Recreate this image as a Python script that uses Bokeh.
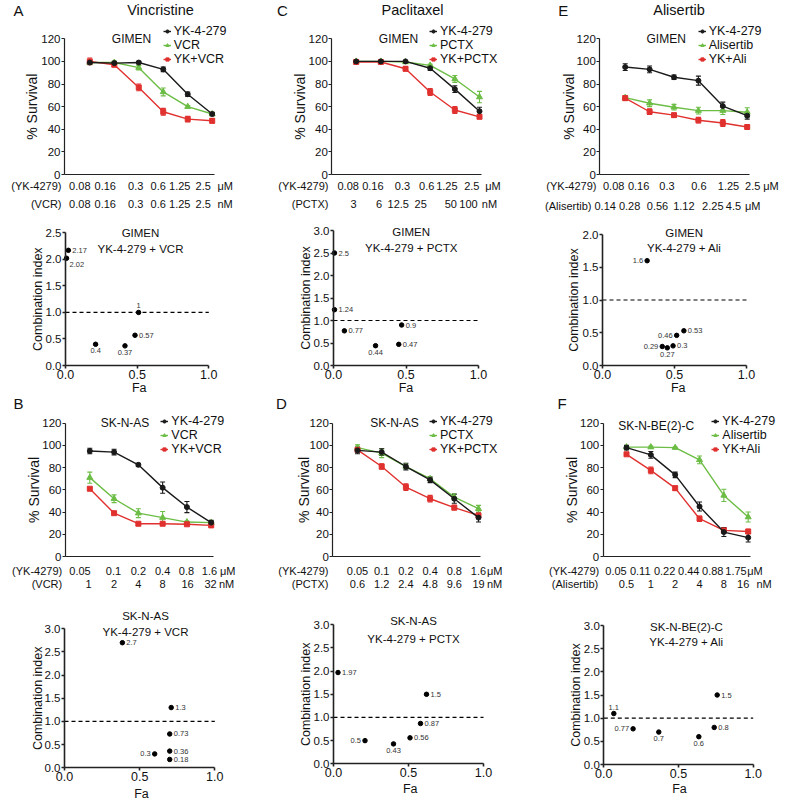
import numpy as np
from bokeh.plotting import figure
from bokeh.models import (Range1d, LinearAxis, FixedTicker, ColumnDataSource, Whisker,
                          TeeHead, Legend, LegendItem, NumeralTickFormatter)
from bokeh.layouts import column, row
from bokeh.embed import file_html
from bokeh.resources import INLINE
from bokeh.core.properties import value

FONT = "Liberation Sans"
BLACK = "#1a1a1a"
GREEN = "#6cbd45"
RED = "#e0312f"
TXT = "#111111"

# ------------------------------------------------------------------ data
# Panel A : Vincristine, GIMEN
A_yk_dose = ["0.08", "0.16", "0.3", "0.6", "1.25", "2.5"]
A_drug_dose = ["0.08", "0.16", "0.3", "0.6", "1.25", "2.5"]
A_yk = [99, 98.5, 99, 93, 71, 53.5]
A_yk_err = [1.5, 1.5, 1, 2, 2, 1.5]
A_drug = [99, 99, 94.5, 73, 60, 53.5]
A_drug_err = [1, 1, 2, 3.5, 1, 1]
A_combo = [100, 97, 77, 55.5, 49, 47.5]
A_combo_err = [3, 1.5, 3, 3, 2.5, 2]
A_fa = [0.02, 0.007, 0.21, 0.415, 0.485, 0.51]
A_ci = [2.17, 2.02, 0.4, 0.37, 0.57, 1.0]
A_ci_lab = ["2.17", "2.02", "0.4", "0.37", "0.57", "1"]

# Panel B : Vincristine, SK-N-AS
B_yk_dose = ["0.05", "0.1", "0.2", "0.4", "0.8", "1.6"]
B_drug_dose = ["1", "2", "4", "8", "16", "32"]
B_yk = [95, 94, 82.5, 62, 44.5, 30.5]
B_yk_err = [2.5, 2.5, 1.5, 5, 5, 2]
B_drug = [71, 52, 39, 35, 31, 30.5]
B_drug_err = [5, 3.5, 4, 5.5, 1, 1]
B_combo = [61, 39, 29.5, 29.5, 29, 28]
B_combo_err = [1, 1, 1, 1, 1, 1]
B_fa = [0.385, 0.71, 0.70, 0.70, 0.70, 0.60]
B_ci = [2.7, 1.3, 0.73, 0.36, 0.18, 0.3]
B_ci_lab = ["2.7", "1.3", "0.73", "0.36", "0.18", "0.3"]

# Panel C : Paclitaxel, GIMEN
C_yk_dose = ["0.08", "0.16", "0.3", "0.6", "1.25", "2.5"]
C_drug_dose = ["3", "6", "12.5", "25", "50", "100"]
C_yk = [100, 100, 100, 94, 75.5, 56]
C_yk_err = [0.5, 0.5, 0.5, 2, 3, 3.5]
C_drug = [100, 100, 99.5, 96.5, 84.5, 68.5]
C_drug_err = [0.5, 0.5, 0.5, 1, 3, 5]
C_combo = [99.5, 99.5, 93.5, 73, 57, 51]
C_combo_err = [0.5, 0.5, 2, 3, 3, 1.5]
C_fa = [0.007, 0.007, 0.075, 0.29, 0.45, 0.47]
C_ci = [2.5, 1.24, 0.77, 0.44, 0.47, 0.9]
C_ci_lab = ["2.5", "1.24", "0.77", "0.44", "0.47", "0.9"]

# Panel D : Paclitaxel, SK-N-AS
D_yk_dose = ["0.05", "0.1", "0.2", "0.4", "0.8", "1.6"]
D_drug_dose = ["0.6", "1.2", "2.4", "4.8", "9.6", "19"]
D_yk = [95.5, 94, 81, 69, 52, 35]
D_yk_err = [3, 3, 3, 2.5, 4, 4]
D_drug = [98, 93, 81, 70, 53.5, 43]
D_drug_err = [2.5, 4, 2, 1.5, 3, 3]
D_combo = [96, 81, 62.5, 52, 44, 37]
D_combo_err = [1.5, 2.5, 3, 3, 2, 2]
D_fa = [0.03, 0.21, 0.40, 0.51, 0.58, 0.62]
D_ci = [1.97, 0.5, 0.43, 0.56, 0.87, 1.5]
D_ci_lab = ["1.97", "0.5", "0.43", "0.56", "0.87", "1.5"]

# Panel E : Alisertib, GIMEN
E_yk_dose = ["0.08", "0.16", "0.3", "0.6", "1.25", "2.5"]
E_drug_dose = ["0.14", "0.28", "0.56", "1.12", "2.25", "4.5"]
E_yk = [95, 93, 86, 83, 60.5, 52]
E_yk_err = [3, 3, 2, 4, 3.5, 3]
E_drug = [68, 63, 59.5, 56.5, 56.5, 55]
E_drug_err = [1.5, 3, 2.5, 3, 3.5, 4]
E_combo = [67.5, 55.5, 52.5, 48, 45.5, 42]
E_combo_err = [2, 2.5, 1.5, 2.5, 3, 1]
E_fa = [0.31, 0.515, 0.565, 0.415, 0.45, 0.49]
E_ci = [1.6, 0.46, 0.53, 0.29, 0.27, 0.3]
E_ci_lab = ["1.6", "0.46", "0.53", "0.29", "0.27", "0.3"]

# Panel F : Alisertib, SK-N-BE(2)-C
F_yk_dose = ["0.05", "0.11", "0.22", "0.44", "0.88", "1.75"]
F_drug_dose = ["0.5", "1", "2", "4", "8", "16"]
F_yk = [98, 91.5, 73.5, 45, 22, 17]
F_yk_err = [2, 3, 2.5, 4, 4, 4]
F_drug = [98.5, 98.5, 98, 87, 55, 35.5]
F_drug_err = [0.5, 1, 0.5, 3.5, 5.5, 4.5]
F_combo = [92, 77.5, 61.5, 34, 23.5, 22.5]
F_combo_err = [1, 3, 2, 2.5, 2.5, 2]
F_fa = [0.067, 0.196, 0.368, 0.636, 0.739, 0.759]
F_ci = [1.1, 0.77, 0.7, 0.6, 0.8, 1.5]
F_ci_lab = ["1.1", "0.77", "0.7", "0.6", "0.8", "1.5"]

SURV_TICKS = [0, 20, 40, 60, 80, 100, 120]
CI_THRESHOLD = 1.0
FA_TICKS = [0.0, 0.5, 1.0]

# ------------------------------------------------------------------ layout (page pixels)
X0 = [0, 263, 526]
W = [263, 263, 263]
Y0 = [0, 214, 411, 598]
H = [214, 197, 187, 208]
DOSE_FS = "11px"


def mk_fig(c, r, fx, fy):
    x0, w, y0, h = X0[c], W[c], Y0[r], H[r]
    p = figure(width=w, height=h,
               x_range=Range1d(fx(x0), fx(x0 + w)),
               y_range=Range1d(fy(y0 + h), fy(y0)),
               x_axis_location=None, y_axis_location=None,
               toolbar_location=None, output_backend="svg",
               min_border=0, outline_line_color=None,
               background_fill_color="white", border_fill_color="white")
    p.grid.visible = False
    return p


def txt(p, xs, ys, texts, size, align="center", baseline="middle", angle=0.0,
        color=TXT, xo=0, yo=0):
    src = ColumnDataSource(dict(x=list(xs), y=list(ys), text=list(texts)))
    p.text(x="x", y="y", text="text", source=src, text_font=value(FONT),
           text_font_size=size, text_align=align, text_baseline=baseline,
           angle=angle, text_color=color, x_offset=xo, y_offset=yo)


def style_axis(ax, lw, size):
    ax.axis_line_color = "#222222"
    ax.axis_line_width = lw
    ax.major_tick_line_color = "#222222"
    ax.major_tick_line_width = lw
    ax.major_tick_out = 3
    ax.major_tick_in = 0
    ax.minor_tick_line_color = None
    ax.major_label_text_font = FONT
    ax.major_label_text_font_size = size
    ax.major_label_text_color = TXT
    ax.major_label_standoff = 1


def survival(c, r, m, series, labels, cell_label, doses, letter, title):
    sx = (m["px5"] - m["px0"]) / 5.0
    sy = (m["py0"] - m["py120"]) / 120.0
    fx = lambda px: (px - m["px0"]) / sx
    fy = lambda py: (m["py0"] - py) / sy
    p = mk_fig(c, r, fx, fy)

    yax = LinearAxis(fixed_location=fx(m["axis"]), bounds=(0, 120),
                     ticker=FixedTicker(ticks=SURV_TICKS))
    style_axis(yax, 1.2, "11.5px")
    p.add_layout(yax, "left")
    xax = LinearAxis(fixed_location=0, bounds=(fx(m["axis"]), 5 + 2.0 / sx),
                     ticker=FixedTicker(ticks=[]))
    style_axis(xax, 1.2, "0px")
    p.add_layout(xax, "below")

    idx = list(range(6))
    rend = {}
    for key in ["drug", "combo", "yk"]:
        vals, err, color, marker, size = series[key]
        y = np.array(vals, dtype=float)
        e = np.array(err, dtype=float)
        src = ColumnDataSource(dict(x=idx, y=y, upper=y + e, lower=y - e))
        wk = Whisker(source=src, base="x", upper="upper", lower="lower",
                     line_color=color, line_width=1.1,
                     upper_head=TeeHead(size=5, line_color=color, line_width=1.1),
                     lower_head=TeeHead(size=5, line_color=color, line_width=1.1))
        p.add_layout(wk)
        ln = p.line("x", "y", source=src, line_color=color, line_width=1.4)
        sc = p.scatter("x", "y", source=src, marker=marker, size=size,
                       fill_color=color, line_color=color)
        rend[key] = [ln, sc]

    items = [LegendItem(label=labels[k], renderers=rend[k]) for k in ["yk", "drug", "combo"]]
    h_item, pitch = 14, 13
    lx = m["leg_x"] - 4 - X0[c]
    ly = (Y0[r] + H[r]) - (m["leg_y"] + 2 * pitch + h_item / 2.0)
    lg = Legend(items=items, location=(lx, ly), orientation="vertical",
                background_fill_alpha=0, border_line_color=None, padding=0, margin=0,
                spacing=pitch - h_item, glyph_width=8, glyph_height=12, label_height=12,
                label_standoff=3, label_text_font=FONT, label_text_font_size="12.5px",
                label_text_color=TXT)
    p.add_layout(lg)

    txt(p, [fx(m["cell"][0])], [fy(m["cell"][1])], [cell_label], "12px")
    txt(p, [fx(m["ylab_x"])], [60], ["% Survival"], "14px", angle=np.pi / 2)

    for (ypx, offs, prefix, labs, unit, pre_r, unit_l) in doses:
        yy = fy(ypx)
        txt(p, [i + o / sx for i, o in zip(idx, offs)], [yy] * 6, labs, DOSE_FS)
        txt(p, [fx(pre_r)], [yy], [prefix], DOSE_FS, align="right")
        txt(p, [fx(unit_l)], [yy], [unit], DOSE_FS, align="left")

    if letter is not None:
        txt(p, [fx(letter[1])], [fy(letter[2])], [letter[0]], "15px")
    if title is not None:
        txt(p, [fx(title[1])], [fy(title[2])], [title[0]], "14.5px")
    return p


POS = {
    "r": dict(align="left", baseline="middle", xo=4, yo=0),
    "l": dict(align="right", baseline="middle", xo=-4, yo=0),
    "b": dict(align="center", baseline="top", xo=0, yo=4),
    "t": dict(align="center", baseline="bottom", xo=0, yo=-4),
    "br": dict(align="left", baseline="top", xo=3, yo=4),
}


def ci_panel(c, r, m, fa, ci, labs, pos, titles, ymax, letter=None):
    sx = (m["x1"] - m["x0"])
    sy = (m["y0"] - m["ytop"]) / ymax
    fx = lambda px: (px - m["x0"]) / sx
    fy = lambda py: (m["y0"] - py) / sy
    p = mk_fig(c, r, fx, fy)

    yticks = [round(v, 1) for v in np.arange(0, ymax + 0.001, 0.5)]
    yax = LinearAxis(fixed_location=0, bounds=(0, ymax), ticker=FixedTicker(ticks=yticks),
                     formatter=NumeralTickFormatter(format="0.0"))
    style_axis(yax, 1.6, "11.5px")
    p.add_layout(yax, "left")
    xax = LinearAxis(fixed_location=0, bounds=(0, 1), ticker=FixedTicker(ticks=FA_TICKS),
                     formatter=NumeralTickFormatter(format="0.0"))
    style_axis(xax, 1.6, "12.5px")
    p.add_layout(xax, "below")

    p.line(x=[FA_TICKS[0], FA_TICKS[-1]], y=[CI_THRESHOLD, CI_THRESHOLD],
           line_dash="4 3", line_color="black", line_width=1.2)
    p.scatter(x=fa, y=ci, size=4.5, fill_color="black", line_color="black")

    for code, spec in POS.items():
        sel = [i for i, q in enumerate(pos) if q == code]
        if not sel:
            continue
        txt(p, [fa[i] for i in sel], [ci[i] for i in sel], [labs[i] for i in sel],
            "7.5px", align=spec["align"], baseline=spec["baseline"],
            xo=spec["xo"], yo=spec["yo"], color="#333333")

    for (t, tx, ty) in titles:
        txt(p, [fx(tx)], [fy(ty)], [t], "11.5px")
    txt(p, [fx(m["ylab_x"])], [ymax / 2.0], ["Combination index"], "12.5px", angle=np.pi / 2)
    txt(p, [fx(m["fa_lab"][0])], [fy(m["fa_lab"][1])], ["Fa"], "12.5px")
    if letter is not None:
        txt(p, [fx(letter[1])], [fy(letter[2])], [letter[0]], "15px")
    return p


def ser(yk, yke, dr, dre, co, coe):
    return {"yk": (yk, yke, BLACK, "circle", 5),
            "drug": (dr, dre, GREEN, "triangle", 6),
            "combo": (co, coe, RED, "square", 5)}


MU = "\u03bcM"

pA = survival(0, 0, dict(axis=64, px0=89.3, px5=211.7, py120=38.3, py0=174,
                         leg_x=166.7, leg_y=33.3, cell=(131, 38.3), ylab_x=31.7),
              ser(A_yk, A_yk_err, A_drug, A_drug_err, A_combo, A_combo_err),
              {"yk": "YK-4-279", "drug": "VCR", "combo": "YK+VCR"}, "GIMEN",
              [(185, [-10, -9, -3, -5, -8, -9], "(YK-4279)", A_yk_dose, MU, 61, 217),
               (203.3, [-10, -9, -3, -5, -8, -9], "(VCR)", A_drug_dose, "nM", 61, 217)],
              ("A", 18, 10), ("Vincristine", 160, 9.5))

pC = survival(1, 0, dict(axis=331.3, px0=355.7, px5=479, py120=38.3, py0=174,
                         leg_x=433, leg_y=32.7, cell=(398, 38.3), ylab_x=299.7),
              ser(C_yk, C_yk_err, C_drug, C_drug_err, C_combo, C_combo_err),
              {"yk": "YK-4-279", "drug": "PCTX", "combo": "YK+PCTX"}, "GIMEN",
              [(185, [-8, -8, -3, -3.5, -8, -7.7], "(YK-4279)", C_yk_dose, MU, 328, 484.7),
               (203.3, [-2.7, -1.7, -7.3, -9.5, -4, -11], "(PCTX)", C_drug_dose, "nM", 328, 481.3)],
              ("C", 282, 10), ("Paclitaxel", 412, 9))

pE = survival(2, 0, dict(axis=599.3, px0=624.7, px5=746.7, py120=38.3, py0=174,
                         leg_x=701.7, leg_y=32.7, cell=(665.7, 38.3), ylab_x=568.3),
              ser(E_yk, E_yk_err, E_drug, E_drug_err, E_combo, E_combo_err),
              {"yk": "YK-4-279", "drug": "Alisertib", "combo": "YK+Ali"}, "GIMEN",
              [(185, [-11.5, -11, -7, 0.5, 5.7, 5.5], "(YK-4279)", E_yk_dose, MU, 596, 762.7),
               (205, [-20, -20, -16.5, -14.5, -10, -13.7], "(Alisertib)", E_drug_dose, MU, 591, 744.5)],
              ("E", 562.7, 10), ("Alisertib", 678.5, 9))

pB = survival(0, 2, dict(axis=65, px0=89.3, px5=210.7, py120=422.7, py0=556,
                         leg_x=164.3, leg_y=422.7, cell=(124.5, 422.7), ylab_x=33.3),
              ser(B_yk, B_yk_err, B_drug, B_drug_err, B_combo, B_combo_err),
              {"yk": "YK-4-279", "drug": "VCR", "combo": "YK+VCR"}, "SK-N-AS",
              [(570, [-9.8, -0.6, 0, 0, -0.4, -1.7], "(YK-4279)", B_yk_dose, MU, 61.7, 219.5),
               (583.3, [-1.3, 0, 0, 0, 0.6, -0.7], "(VCR)", B_drug_dose, "nM", 61.7, 218.5)],
              None, None)

pD = survival(1, 2, dict(axis=332.3, px0=357, px5=478, py120=422.7, py0=556,
                         leg_x=433, leg_y=422.7, cell=(394, 422.7), ylab_x=303),
              ser(D_yk, D_yk_err, D_drug, D_drug_err, D_combo, D_combo_err),
              {"yk": "YK-4-279", "drug": "PCTX", "combo": "YK+PCTX"}, "SK-N-AS",
              [(570, [0, 0, 0, 0, 0, 0], "(YK-4279)", D_yk_dose, MU, 328, 486.5),
               (583.3, [0, 0, 0, 0, 0, 0], "(PCTX)", D_drug_dose, "nM", 328, 486.5)],
              None, None)

pF = survival(2, 2, dict(axis=602.7, px0=626, px5=747.7, py120=422.7, py0=556,
                         leg_x=715.3, leg_y=423.3, cell=(655.7, 425), ylab_x=571),
              ser(F_yk, F_yk_err, F_drug, F_drug_err, F_combo, F_combo_err),
              {"yk": "YK-4-279", "drug": "Alisertib", "combo": "YK+Ali"}, "SK-N-BE(2)-C",
              [(570, [-10.5, -10.6, -10.6, -10.8, -11.1, -12.2], "(YK-4279)", F_yk_dose, MU, 598.7, 746.7),
               (583.3, [0, 0, 0, 0, 0, -5], "(Alisertib)", F_drug_dose, "nM", 597.7, 756)],
              None, None)

ciA = ci_panel(0, 1, dict(x0=65, x1=208.3, ytop=232.3, y0=365, ylab_x=37.5, fa_lab=(138.7, 387.7)),
               A_fa, A_ci, A_ci_lab, ["r", "br", "b", "b", "r", "t"],
               [("GIMEN", 140, 232), ("YK-4-279 + VCR", 140, 248)], 2.5, ("B", 18, 403))
ciC = ci_panel(1, 1, dict(x0=333, x1=478, ytop=230, y0=365, ylab_x=305, fa_lab=(405.5, 387.7)),
               C_fa, C_ci, C_ci_lab, ["r", "r", "r", "b", "r", "r"],
               [("GIMEN", 410.7, 231.7), ("YK-4-279 + PCTX", 410.7, 247.7)], 3.0, ("D", 281, 403))
ciE = ci_panel(2, 1, dict(x0=602, x1=746, ytop=234, y0=365, ylab_x=573.5, fa_lab=(677.7, 387.7)),
               E_fa, E_ci, E_ci_lab, ["l", "l", "r", "l", "b", "r"],
               [("GIMEN", 683.7, 232.3), ("YK-4-279 + Ali", 683.7, 247.7)], 2.0, ("F", 561.5, 403))
ciB = ci_panel(0, 3, dict(x0=64, x1=214.3, ytop=628.3, y0=767.3, ylab_x=37.5, fa_lab=(141, 793.3)),
               B_fa, B_ci, B_ci_lab, ["r", "r", "r", "r", "r", "l"],
               [("SK-N-AS", 145, 615.7), ("YK-4-279 + VCR", 145, 631)], 3.0)
ciD = ci_panel(1, 3, dict(x0=333, x1=483, ytop=624.3, y0=763.3, ylab_x=305, fa_lab=(409.7, 788.3)),
               D_fa, D_ci, D_ci_lab, ["r", "l", "b", "r", "r", "r"],
               [("SK-N-AS", 413, 620), ("YK-4-279 + PCTX", 413, 638.3)], 3.0)
ciF = ci_panel(2, 3, dict(x0=603.3, x1=752.7, ytop=625, y0=764, ylab_x=575, fa_lab=(679, 788.3)),
               F_fa, F_ci, F_ci_lab, ["t", "l", "b", "b", "r", "r"],
               [("SK-N-BE(2)-C", 686, 626.7), ("YK-4-279 + Ali", 686, 641)], 3.0)

layout = column(row(pA, pC, pE), row(ciA, ciC, ciE), row(pB, pD, pF), row(ciB, ciD, ciF))
open("out.html", "w").write(file_html(layout, INLINE))
